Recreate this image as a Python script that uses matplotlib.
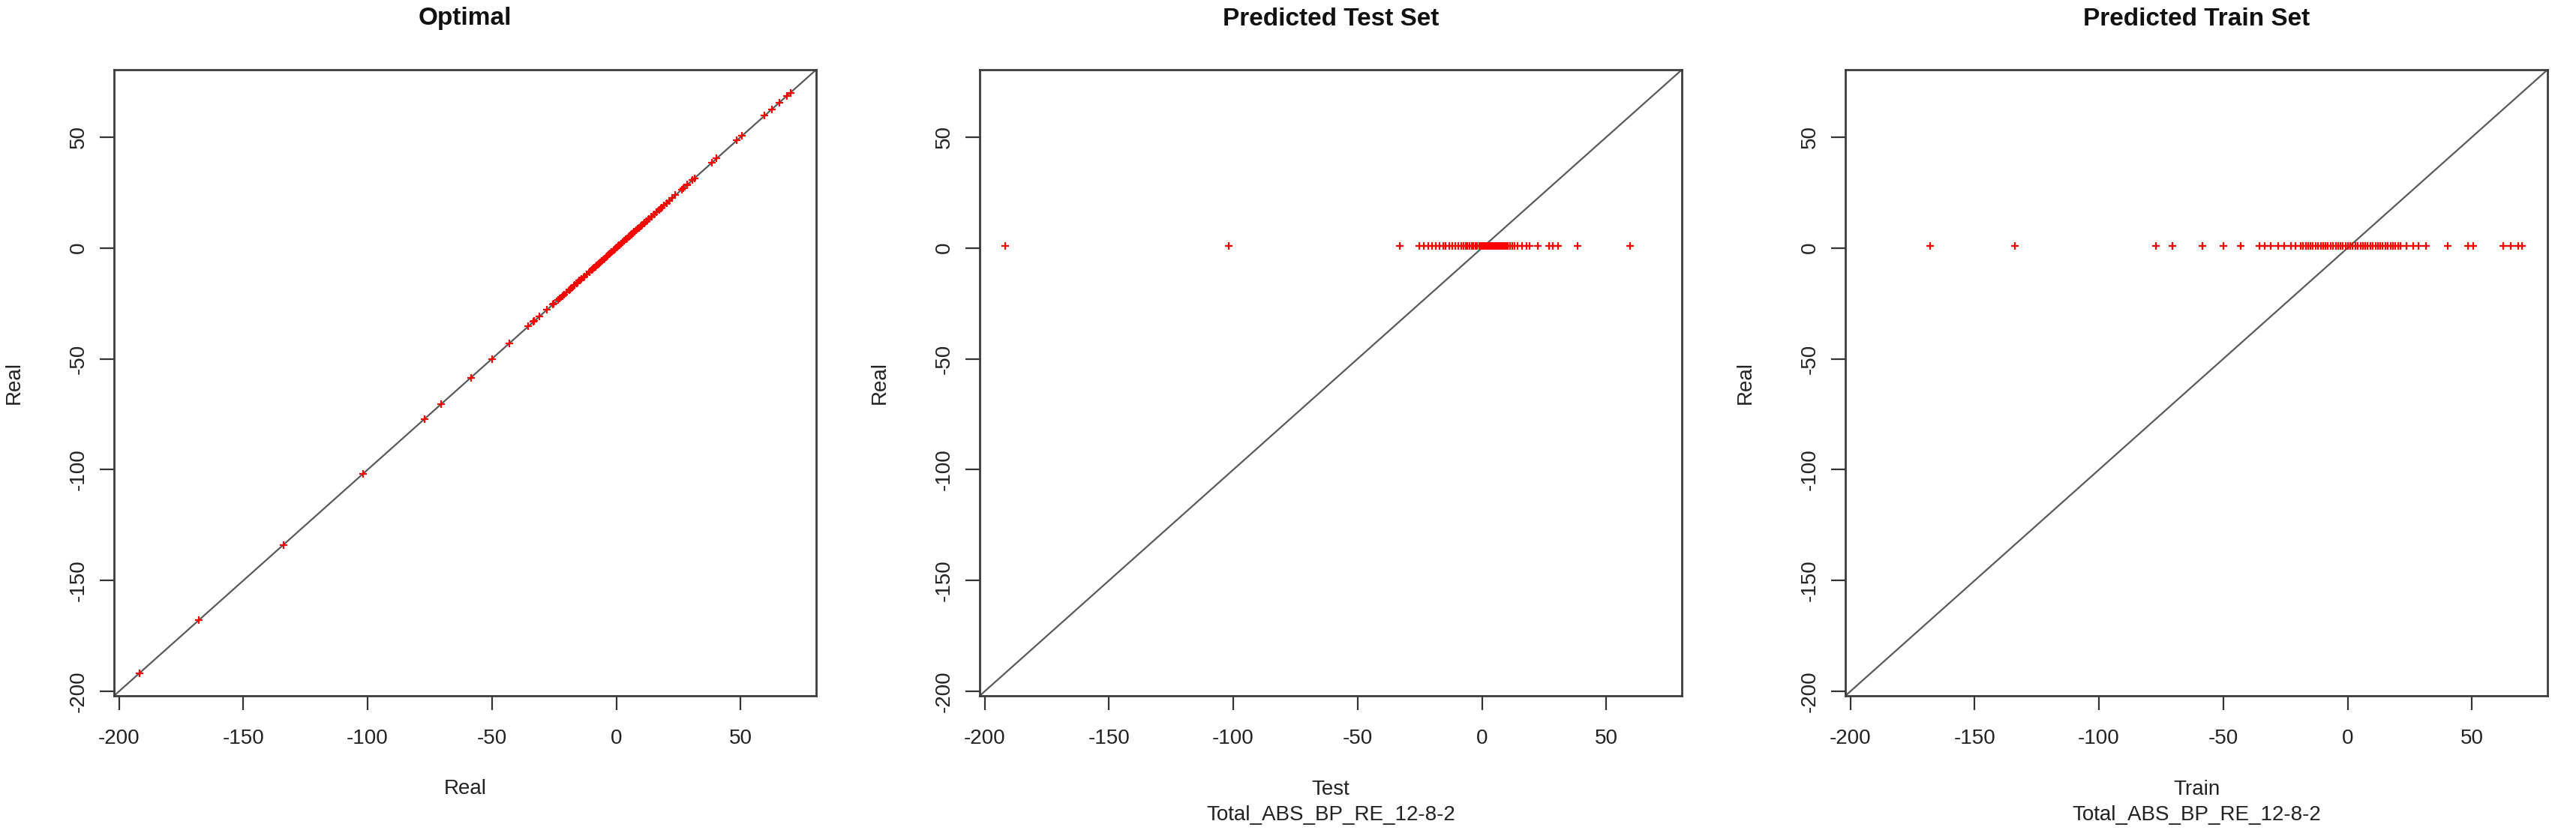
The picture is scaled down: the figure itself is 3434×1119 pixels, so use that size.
import numpy as np
import matplotlib.pyplot as plt

plt.rcParams['font.family'] = ['Liberation Sans', 'DejaVu Sans']
plt.rcParams['axes.unicode_minus'] = False

# real values of the test set (predictions all sit at ~1)
test_real = [-191.8, -101.9, -32.9, -25.2, -23.5, -21.7, -20.2, -18.7, -17.0, -15.6,
             -14.6, -13.2, -11.8, -10.6, -9.5, -8.4, -7.5, -6.6, -5.8, -5.0,
             -4.2, -3.4, -2.6, -1.9, -1.2, -0.5, 0.2, 0.8, 1.4, 2.0,
             2.6, 3.2, 3.8, 4.4, 5.0, 5.6, 6.2, 6.8, 7.4, 8.0,
             8.6, 9.2, 9.8, 10.5, 11.3, 12.1, 13.0, 14.2, 16.2, 18.0,
             19.2, 22.5, 27.1, 28.6, 30.6, 38.6, 59.7]
test_pred = 1.0

# real values of the train set
train_real = [-168.0, -133.9, -77.1, -70.6, -58.5, -50.0, -43.0, -35.4, -33.4, -30.9,
              -27.9, -25.4, -22.9, -20.9, -18.9, -17.9, -16.8, -15.9, -14.8, -13.9,
              -12.8, -11.9, -10.8, -9.9, -8.8, -7.9, -6.8, -5.9, -4.8, -3.9,
              -2.8, -1.9, -0.8, 0.1, 1.2, 2.1, 3.2, 4.1, 5.2, 6.1,
              7.2, 8.1, 9.2, 10.1, 11.2, 12.1, 13.2, 14.1, 15.2, 16.1,
              17.2, 18.1, 19.2, 20.3, 21.3, 23.8, 26.4, 28.4, 31.4, 40.4,
              48.5, 50.5, 62.5, 65.5, 68.5, 70.0]
train_pred = 1.0

titles = ['Optimal', 'Predicted Test Set', 'Predicted Train Set']
xlabels = [['Real'], ['Test', 'Total_ABS_BP_RE_12-8-2'], ['Train', 'Total_ABS_BP_RE_12-8-2']]
ticks = [-200, -150, -100, -50, 0, 50]
lims = (-202, 80.4)

all_real = test_real + train_real
xs = [all_real, test_real, train_real]
ys = [all_real, [test_pred] * len(test_real), [train_pred] * len(train_real)]

W, H = 3434, 1119
fig = plt.figure(figsize=(W / 100, H / 100), dpi=100)

lefts = [152, 1306, 2460]
box_w, box_top, box_bot = 936, 93, 928

for i in range(3):
    ax = fig.add_axes([lefts[i] / W, (H - box_bot) / H, box_w / W, (box_bot - box_top) / H])
    ax.set_xlim(lims)
    ax.set_ylim(lims)
    ax.plot(lims, lims, color='#5a5a5a', lw=1.6, zorder=1)
    ax.plot(xs[i], ys[i], linestyle='none', marker='+', color='red', ms=7.5, mew=1.6, zorder=2)

    ax.set_xticks(ticks)
    ax.set_yticks(ticks)
    ax.tick_params(axis='both', direction='out', length=13.5, width=1.6, color='#333333',
                   labelsize=20, labelcolor='#222222')
    ax.tick_params(axis='x', pad=18)
    ax.tick_params(axis='y', pad=11)
    for lbl in ax.get_yticklabels():
        lbl.set_rotation(90)
        lbl.set_va('center')
    for sp in ax.spines.values():
        sp.set_color('#3c3c3c')
        sp.set_linewidth(2.0)

    ax.set_ylabel('Real', fontsize=20, color='#222222')
    ax.yaxis.set_label_coords(-120 / box_w, 0.5)

    if len(xlabels[i]) == 1:
        ax.text(0.5, (box_bot - 1052) / (box_bot - box_top), xlabels[i][0], transform=ax.transAxes,
                ha='center', va='center', fontsize=20, color='#222222')
    else:
        ax.text(0.5, (box_bot - 1053) / (box_bot - box_top), xlabels[i][0], transform=ax.transAxes,
                ha='center', va='center', fontsize=20, color='#222222')
        ax.text(0.5, (box_bot - 1087) / (box_bot - box_top), xlabels[i][1], transform=ax.transAxes,
                ha='center', va='center', fontsize=20, color='#222222')

    fig.text((lefts[i] + box_w / 2) / W, 1 - 25 / H, titles[i], ha='center', va='center',
             fontsize=24, fontweight='bold', color='#111111')

fig.savefig('out.png', dpi=100, facecolor='white')
